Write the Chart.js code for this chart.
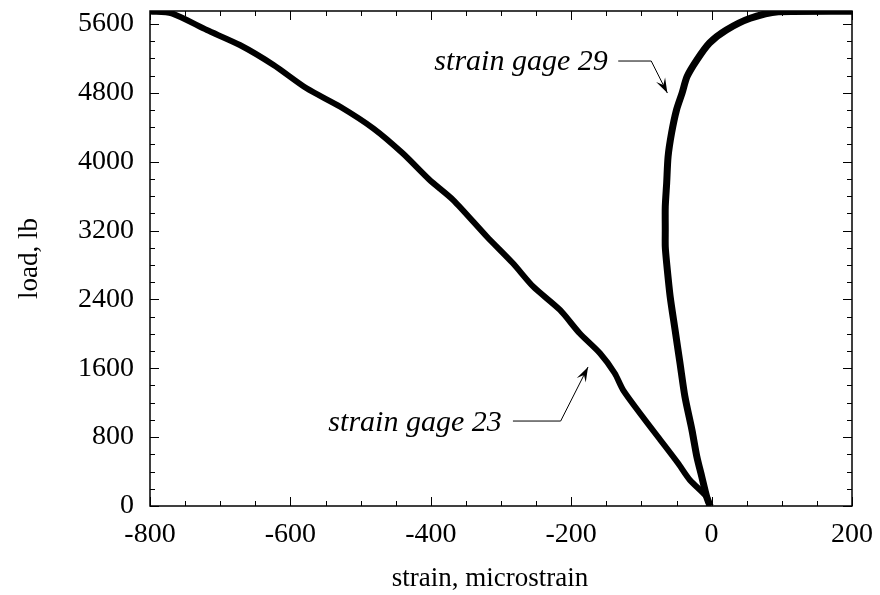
<!DOCTYPE html>
<html>
<head>
<meta charset="utf-8">
<script src="https://cdn.jsdelivr.net/npm/chart.js@4.4.0/dist/chart.umd.min.js"></script>
<style>
  html, body { margin: 0; padding: 0; background: #fff; }
  #wrap { width: 880px; height: 595px; }
</style>
</head>
<body>
<div id="wrap"><canvas id="myChart" width="880" height="595"></canvas></div>
<script>
// load (lb) and strain (microstrain)
const load23   = [0, 105, 302, 499, 767, 1034, 1347, 1542, 1774, 2006, 2277, 2547, 2819, 3128, 3554, 3790, 4097, 4387, 4638, 4852, 5123, 5355, 5529, 5723, 5745];
const strain23 = [-3, -7, -31, -48, -73, -98, -126, -138, -159, -188, -216, -254, -283, -320, -368, -402, -440, -482, -529, -577, -624, -672, -719, -769, -800];

const load29   = [0, 108, 340, 573, 883, 1270, 1658, 2044, 2431, 2819, 3012, 3206, 3477, 3752, 4057, 4333, 4600, 4797, 4987, 5181, 5378, 5529, 5665, 5742, 5748];
const strain29 = [-2, -7, -14, -21, -28, -38, -45, -52, -59, -64, -66, -66, -66, -64, -62, -57, -50, -42, -35, -21, -3, 21, 55, 95, 200];

const xTicks = [-800, -600, -400, -200, 0, 200];
const yTicks = [0, 800, 1600, 2400, 3200, 4000, 4800, 5600];

const xTitle = 'strain, microstrain';
const yTitle = 'load, lb';

const serif = '"Liberation Serif", "Times New Roman", serif';

// callouts, in data units
const notes = [
  { text: 'strain gage 29', tx: -148, ty: 5160, sx: -133, bx: -86, by: 5169, px: -63, py: 4797 },
  { text: 'strain gage 23', tx: -299, ty: 964, sx: -283, bx: -215, by: 987, px: -176, py: 1615 }
];

function toPts(xs, ys) {
  return xs.map((v, i) => ({ x: v, y: ys[i] }));
}

const framePlugin = {
  id: 'frame',
  afterDraw(chart) {
    const ctx = chart.ctx;
    const { left, right, top, bottom } = chart.chartArea;
    const xs = chart.scales.x, ys = chart.scales.y;
    ctx.save();
    ctx.strokeStyle = '#000';
    ctx.lineWidth = 1.5;
    ctx.strokeRect(left, top, right - left, bottom - top);

    ctx.lineWidth = 1;
    ctx.beginPath();
    for (let v = -800; v <= 200; v += 50) {
      const p = Math.round(xs.getPixelForValue(v)) + 0.5;
      const len = v % 200 === 0 ? 9 : 5;
      ctx.moveTo(p, bottom); ctx.lineTo(p, bottom - len);
      ctx.moveTo(p, top); ctx.lineTo(p, top + len);
    }
    for (let v = 0; v <= 5600; v += 200) {
      const p = Math.round(ys.getPixelForValue(v)) + 0.5;
      const len = v % 800 === 0 ? 9 : 5;
      ctx.moveTo(left, p); ctx.lineTo(left + len, p);
      ctx.moveTo(right, p); ctx.lineTo(right - len, p);
    }
    ctx.stroke();

    // axis titles
    ctx.fillStyle = '#000';
    ctx.font = '27px ' + serif;
    ctx.textAlign = 'center';
    ctx.textBaseline = 'middle';
    ctx.fillText(xTitle, 490, 579);
    ctx.save();
    ctx.translate(30, (top + bottom) / 2);
    ctx.rotate(-Math.PI / 2);
    ctx.fillText(yTitle, 0, 0);
    ctx.restore();

    // callouts
    ctx.font = 'italic 30px ' + serif;
    ctx.textAlign = 'right';
    notes.forEach(n => {
      ctx.fillText(n.text, xs.getPixelForValue(n.tx), ys.getPixelForValue(n.ty));
      const y0 = ys.getPixelForValue(n.by);
      const bx = xs.getPixelForValue(n.bx);
      const px = xs.getPixelForValue(n.px), py = ys.getPixelForValue(n.py);
      ctx.lineWidth = 1;
      ctx.beginPath();
      ctx.moveTo(xs.getPixelForValue(n.sx), y0);
      ctx.lineTo(bx, y0);
      ctx.lineTo(px, py);
      ctx.stroke();
      const a = Math.atan2(py - y0, px - bx);
      const L = 15, W = 5;
      ctx.beginPath();
      ctx.moveTo(px, py);
      ctx.lineTo(px - L * Math.cos(a) + W * Math.sin(a), py - L * Math.sin(a) - W * Math.cos(a));
      ctx.lineTo(px - 0.6 * L * Math.cos(a), py - 0.6 * L * Math.sin(a));
      ctx.lineTo(px - L * Math.cos(a) - W * Math.sin(a), py - L * Math.sin(a) + W * Math.cos(a));
      ctx.closePath();
      ctx.fill();
    });
    ctx.restore();
  }
};

const ctx = document.getElementById('myChart').getContext('2d');
const mychart = new Chart(ctx, {
  type: 'scatter',
  data: {
    datasets: [
      { label: 'strain gage 23', data: toPts(strain23, load23), showLine: true, borderColor: '#000', borderWidth: 6, pointRadius: 0, tension: 0.25, clip: 0 },
      { label: 'strain gage 29', data: toPts(strain29, load29), showLine: true, borderColor: '#000', borderWidth: 7, pointRadius: 0, tension: 0.25, clip: 0 }
    ]
  },
  plugins: [framePlugin],
  options: {
    responsive: false,
    animation: false,
    layout: { padding: { top: 11, right: 28, left: 0, bottom: 0 } },
    plugins: { legend: { display: false }, tooltip: { enabled: false } },
    scales: {
      x: {
        type: 'linear', min: -800, max: 200,
        afterBuildTicks: s => { s.ticks = xTicks.map(v => ({ value: v })); },
        afterFit: s => { s.height = 89; s.paddingLeft = 0; s.paddingRight = 0; },
        grid: { display: false, drawTicks: false },
        border: { display: false },
        ticks: { color: '#000', padding: 12, font: { family: serif, size: 28 }, maxRotation: 0, callback: v => String(v) }
      },
      y: {
        type: 'linear', min: 0, max: 5750,
        afterBuildTicks: s => { s.ticks = yTicks.map(v => ({ value: v })); },
        afterFit: s => { s.width = 150; s.paddingTop = 0; s.paddingBottom = 0; },
        grid: { display: false, drawTicks: false },
        border: { display: false },
        ticks: { color: '#000', padding: 16, font: { family: serif, size: 28 }, callback: v => String(v) }
      }
    }
  }
});
</script>
</body>
</html>
